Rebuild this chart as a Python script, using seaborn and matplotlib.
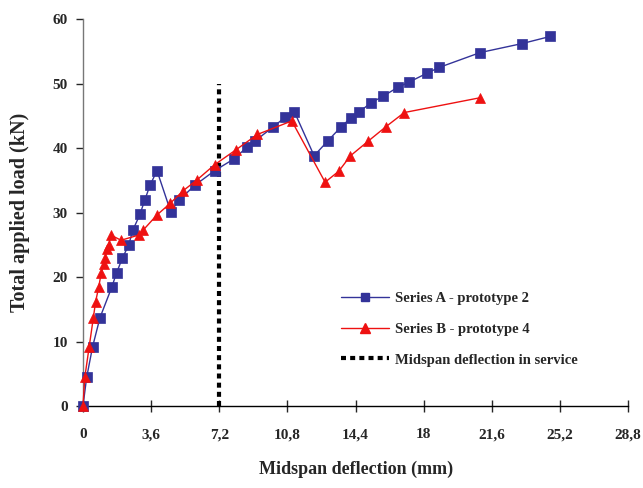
import pandas as pd
import matplotlib
matplotlib.use('Agg')
import matplotlib.pyplot as plt
import seaborn as sns
from matplotlib.lines import Line2D

# Series A - prototype 2 (deflection mm, load kN)
defl_a = [0, 0.20, 0.51, 0.90, 1.52, 1.78, 2.08, 2.42, 2.64, 3.01, 3.26, 3.54, 3.91,
          4.64, 5.07, 5.90, 6.96, 7.97, 8.65, 9.09, 10.06, 10.69, 11.17, 12.21, 12.93,
          13.64, 14.16, 14.60, 15.20, 15.84, 16.62, 17.21, 18.17, 18.82, 20.98, 23.20, 24.68]
load_a = [0, 4.5, 9.2, 13.7, 18.4, 20.7, 22.9, 25.0, 27.3, 29.7, 31.9, 34.2, 36.5,
          30.1, 31.9, 34.2, 36.5, 38.3, 40.1, 41.1, 43.3, 44.8, 45.6, 38.8, 41.1,
          43.3, 44.7, 45.6, 47.0, 48.0, 49.4, 50.2, 51.6, 52.5, 54.8, 56.2, 57.3]

# Series B - prototype 4
defl_b = [0, 0.10, 0.33, 0.55, 0.67, 0.83, 0.97, 1.09, 1.16, 1.27, 1.36, 1.48, 2.01,
          2.94, 3.19, 3.90, 4.60, 5.30, 6.00, 6.95, 8.07, 9.21, 11.03, 12.79, 13.51,
          14.13, 15.08, 16.00, 16.97, 20.98]
load_b = [0, 4.5, 9.2, 13.7, 16.2, 18.4, 20.7, 22.0, 22.9, 24.3, 25.0, 26.5, 25.7,
          26.5, 27.3, 29.6, 31.4, 33.4, 35.0, 37.4, 39.7, 42.1, 44.2, 34.7, 36.4,
          38.8, 41.1, 43.3, 45.5, 47.8]

service_defl = 7.2
service_load = [0, 50]

x_ticks = [0, 3.6, 7.2, 10.8, 14.4, 18, 21.6, 25.2, 28.8]
x_ticklabels = ['0', '3,6', '7,2', '10,8', '14,4', '18', '21,6', '25,2', '28,8']
y_ticks = [0, 10, 20, 30, 40, 50, 60]

blue = '#333399'
red = '#ee1111'
dots = (0, (1.2, 1.0))

sns.set_style('white')
plt.rcParams['font.family'] = ['Liberation Serif', 'DejaVu Serif']
plt.rcParams['font.weight'] = 'bold'

fig = plt.figure(figsize=(6.43, 4.88), dpi=100)
ax = fig.add_axes([0.129, 0.168, 0.848, 0.793])

df_a = pd.DataFrame({'defl': defl_a, 'load': load_a})
df_b = pd.DataFrame({'defl': defl_b, 'load': load_b})

sns.lineplot(data=df_a, x='defl', y='load', ax=ax, sort=False, estimator=None,
             color=blue, lw=1, marker='s', markersize=6.5, markeredgecolor=blue,
             markeredgewidth=0.5, zorder=3, clip_on=False)
sns.lineplot(data=df_b, x='defl', y='load', ax=ax, sort=False, estimator=None,
             color=red, lw=1, marker='^', markersize=7.5, markeredgecolor=red,
             markeredgewidth=0.5, zorder=4, clip_on=False)
ax.plot([service_defl, service_defl], service_load, color='black', lw=3,
        linestyle=dots, zorder=2)

ax.set_xlim(0, 28.8)
ax.set_ylim(0, 60)
ax.set_xticks(x_ticks)
ax.set_xticklabels(x_ticklabels)
ax.set_yticks(y_ticks)
ax.tick_params(axis='x', direction='inout', length=8, width=1, labelsize=11, pad=12,
               bottom=True)
ax.tick_params(axis='y', direction='out', length=5, width=1, labelsize=11, pad=6,
               left=True)

for side in ['top', 'right']:
    ax.spines[side].set_visible(False)
ax.spines['left'].set_color('#777777')
ax.spines['bottom'].set_color('black')
ax.spines['left'].set_linewidth(1)
ax.spines['bottom'].set_linewidth(1)

ax.set_xlabel('Midspan deflection (mm)', fontsize=13, fontweight='bold', labelpad=14)
ax.set_ylabel('Total applied load (kN)', fontsize=14.5, fontweight='bold')
ax.yaxis.set_label_coords(-0.098, 0.5)

handles = [
    Line2D([], [], color=blue, lw=1, marker='s', markersize=6),
    Line2D([], [], color=red, lw=1, marker='^', markersize=7),
    Line2D([], [], color='black', lw=3, linestyle=dots),
]
labels = ['Series A - prototype 2', 'Series B - prototype 4',
          'Midspan deflection in service']
ax.legend(handles, labels, loc='upper left', bbox_to_anchor=(0.462, 0.31),
          frameon=False, fontsize=10.5, handlelength=3.3, labelspacing=1.2,
          handletextpad=0.4, borderaxespad=0)

fig.savefig('out.png', dpi=100)
